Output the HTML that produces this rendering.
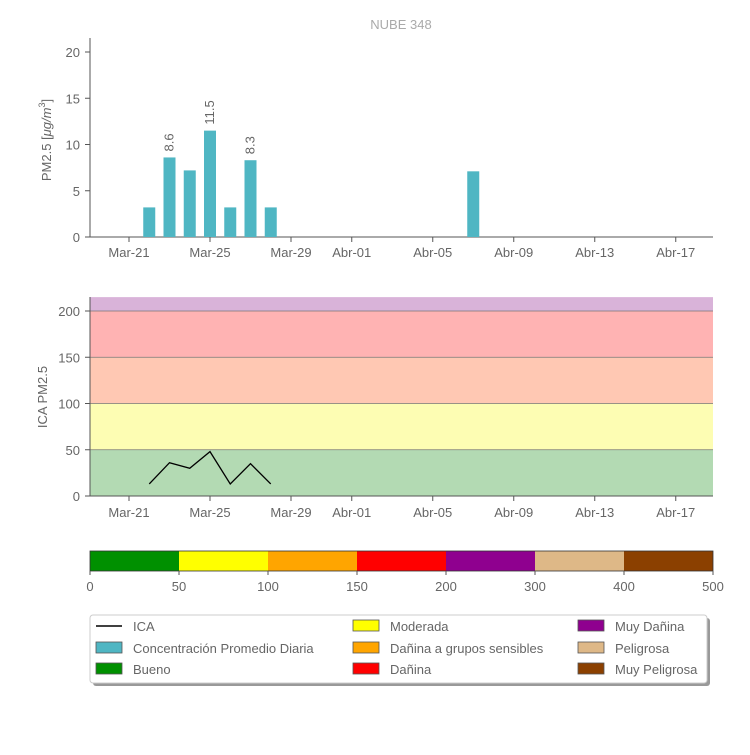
<!DOCTYPE html>
<html><head><meta charset="utf-8"><style>
body{margin:0;background:#fff;font-family:"Liberation Sans",sans-serif}
svg text{font-family:"Liberation Sans",sans-serif;fill:#666}
</style></head><body>
<svg id="c" width="750" height="750" viewBox="0 0 750 750"></svg>
<script>
const dates=["Mar-22","Mar-23","Mar-24","Mar-25","Mar-26","Mar-27","Mar-28","Abr-07"];
const dayIdx=[1,2,3,4,5,6,7,17];
const pm25=[3.2,8.6,7.2,11.5,3.2,8.3,3.2,7.1];
const barLabels=["","8.6","","11.5","","8.3","",""];
const icaDays=[1,2,3,4,5,6,7];
const icaVals=[13,36,30,48,13,35,13];
const tickLabels=["Mar-21","Mar-25","Mar-29","Abr-01","Abr-05","Abr-09","Abr-13","Abr-17"];
const tickDays=[0,4,8,11,15,19,23,27];
const pmTicks=[0,5,10,15,20];
const icaTicks=[0,50,100,150,200];
const bandLimits=[0,50,100,150,200,215];
const bandColors=["#b3dab3","#fdfdb3","#ffc8b3","#ffb3b3","#d9b3d9"];
const cbTicks=["0","50","100","150","200","300","400","500"];
const cbColors=["#009000","#ffff00","#ffa500","#ff0000","#8f008f","#deb887","#8b4000"];

const S=document.getElementById('c');const NS="http://www.w3.org/2000/svg";
function el(t,a,p){const e=document.createElementNS(NS,t);for(const k in a)e.setAttribute(k,a[k]);(p||S).appendChild(e);return e;}
const X=d=>129+(d)*20.25;
const Y1=v=>237-v*9.25;
const Y2=v=>496-v*0.925;

let t=el('text',{x:401,y:29,'text-anchor':'middle','font-size':13,style:'fill:#aaa'});t.textContent="NUBE 348";


// top axes
let g=el('g',{});
el('line',{x1:90,y1:38,x2:90,y2:237,stroke:'#555'},g);
el('line',{x1:90,y1:237,x2:713,y2:237,stroke:'#555'},g);
pmTicks.forEach(v=>{el('line',{x1:85,x2:90,y1:Y1(v),y2:Y1(v),stroke:'#555'},g);
 const tt=el('text',{x:80,y:Y1(v)+5,'text-anchor':'end','font-size':13},g);tt.textContent=v;});
t=el('text',{x:0,y:0,'font-size':13,transform:'translate(51,140) rotate(-90)','text-anchor':'middle'},g);
t.innerHTML='PM2.5 [<tspan font-style="italic">μg/m</tspan><tspan font-size="9" dy="-6">3</tspan><tspan dy="6">]</tspan>';

dates.forEach((d,i)=>{const b=el('rect',{x:X(dayIdx[i])-6,y:Y1(pm25[i]),width:12,height:pm25[i]*9.25,fill:'#4fb6c3'},g);
 
 if(barLabels[i]){const l=el('text',{'font-size':13,transform:`translate(${X(dayIdx[i])+4},${Y1(pm25[i])-6}) rotate(-90)`},g);l.textContent=barLabels[i];}});
tickDays.forEach((d,i)=>{el('line',{x1:X(d),x2:X(d),y1:237,y2:242,stroke:'#555'},g);
 const l=el('text',{x:X(d),y:257,'text-anchor':'middle','font-size':13},g);l.textContent=tickLabels[i];});

// bottom
g=el('g',{});
for(let i=0;i<bandColors.length;i++){el('rect',{x:90,y:Y2(bandLimits[i+1]),width:623,height:Y2(bandLimits[i])-Y2(bandLimits[i+1]),fill:bandColors[i]},g);}
[50,100,150,200].forEach(v=>el('line',{x1:90,x2:713,y1:Y2(v),y2:Y2(v),stroke:'#777','stroke-width':0.7},g));
el('line',{x1:90,y1:297,x2:90,y2:496,stroke:'#555'},g);
el('line',{x1:90,y1:496,x2:713,y2:496,stroke:'#555'},g);
icaTicks.forEach(v=>{el('line',{x1:85,x2:90,y1:Y2(v),y2:Y2(v),stroke:'#555'},g);
 const tt=el('text',{x:80,y:Y2(v)+5,'text-anchor':'end','font-size':13},g);tt.textContent=v;});
t=el('text',{'font-size':13,transform:'translate(47,397) rotate(-90)','text-anchor':'middle'},g);t.textContent="ICA PM2.5";
tickDays.forEach((d,i)=>{el('line',{x1:X(d),x2:X(d),y1:496,y2:501,stroke:'#555'},g);
 const l=el('text',{x:X(d),y:517,'text-anchor':'middle','font-size':13},g);l.textContent=tickLabels[i];});
const pl=el('polyline',{points:icaDays.map((d,i)=>X(d)+','+Y2(icaVals[i])).join(' '),fill:'none',stroke:'#000','stroke-width':1.3},g);


// colorbar
g=el('g',{});
const cw=623/7;
cbColors.forEach((c,i)=>el('rect',{x:90+i*cw,y:551,width:cw,height:20,fill:c},g));
el('rect',{x:90,y:551,width:623,height:20,fill:'none',stroke:'#333','stroke-width':0.8},g);
cbTicks.forEach((l,i)=>{el('line',{x1:90+i*cw,x2:90+i*cw,y1:571,y2:575,stroke:'#555'},g);
 const tt=el('text',{x:90+i*cw,y:591,'text-anchor':'middle','font-size':13},g);tt.textContent=l;});

// legend
g=el('g',{});
el('rect',{x:93,y:618,width:617,height:68,fill:'#999',rx:3},g);
el('rect',{x:90,y:615,width:617,height:68,fill:'#fff',stroke:'#ccc',rx:3},g);
const items=[["ICA",null,96,626],["Concentración Promedio Diaria","#4fb6c3",96,648],["Bueno","#009000",96,669],
["Moderada","#ffff00",353,626],["Dañina a grupos sensibles","#ffa500",353,648],["Dañina","#ff0000",353,669],
["Muy Dañina","#8f008f",578,626],["Peligrosa","#deb887",578,648],["Muy Peligrosa","#8b4000",578,669]];
items.forEach(it=>{const e=el('g',{},g);
 if(it[1])el('rect',{x:it[2],y:it[3]-6,width:26,height:11,fill:it[1],stroke:'#555','stroke-width':0.8},e);
 else el('line',{x1:it[2],x2:it[2]+26,y1:it[3],y2:it[3],stroke:'#000','stroke-width':1.5},e);
 const tt=el('text',{x:it[2]+37,y:it[3]+5,'font-size':13},e);tt.textContent=it[0];});
</script>
</body></html>
